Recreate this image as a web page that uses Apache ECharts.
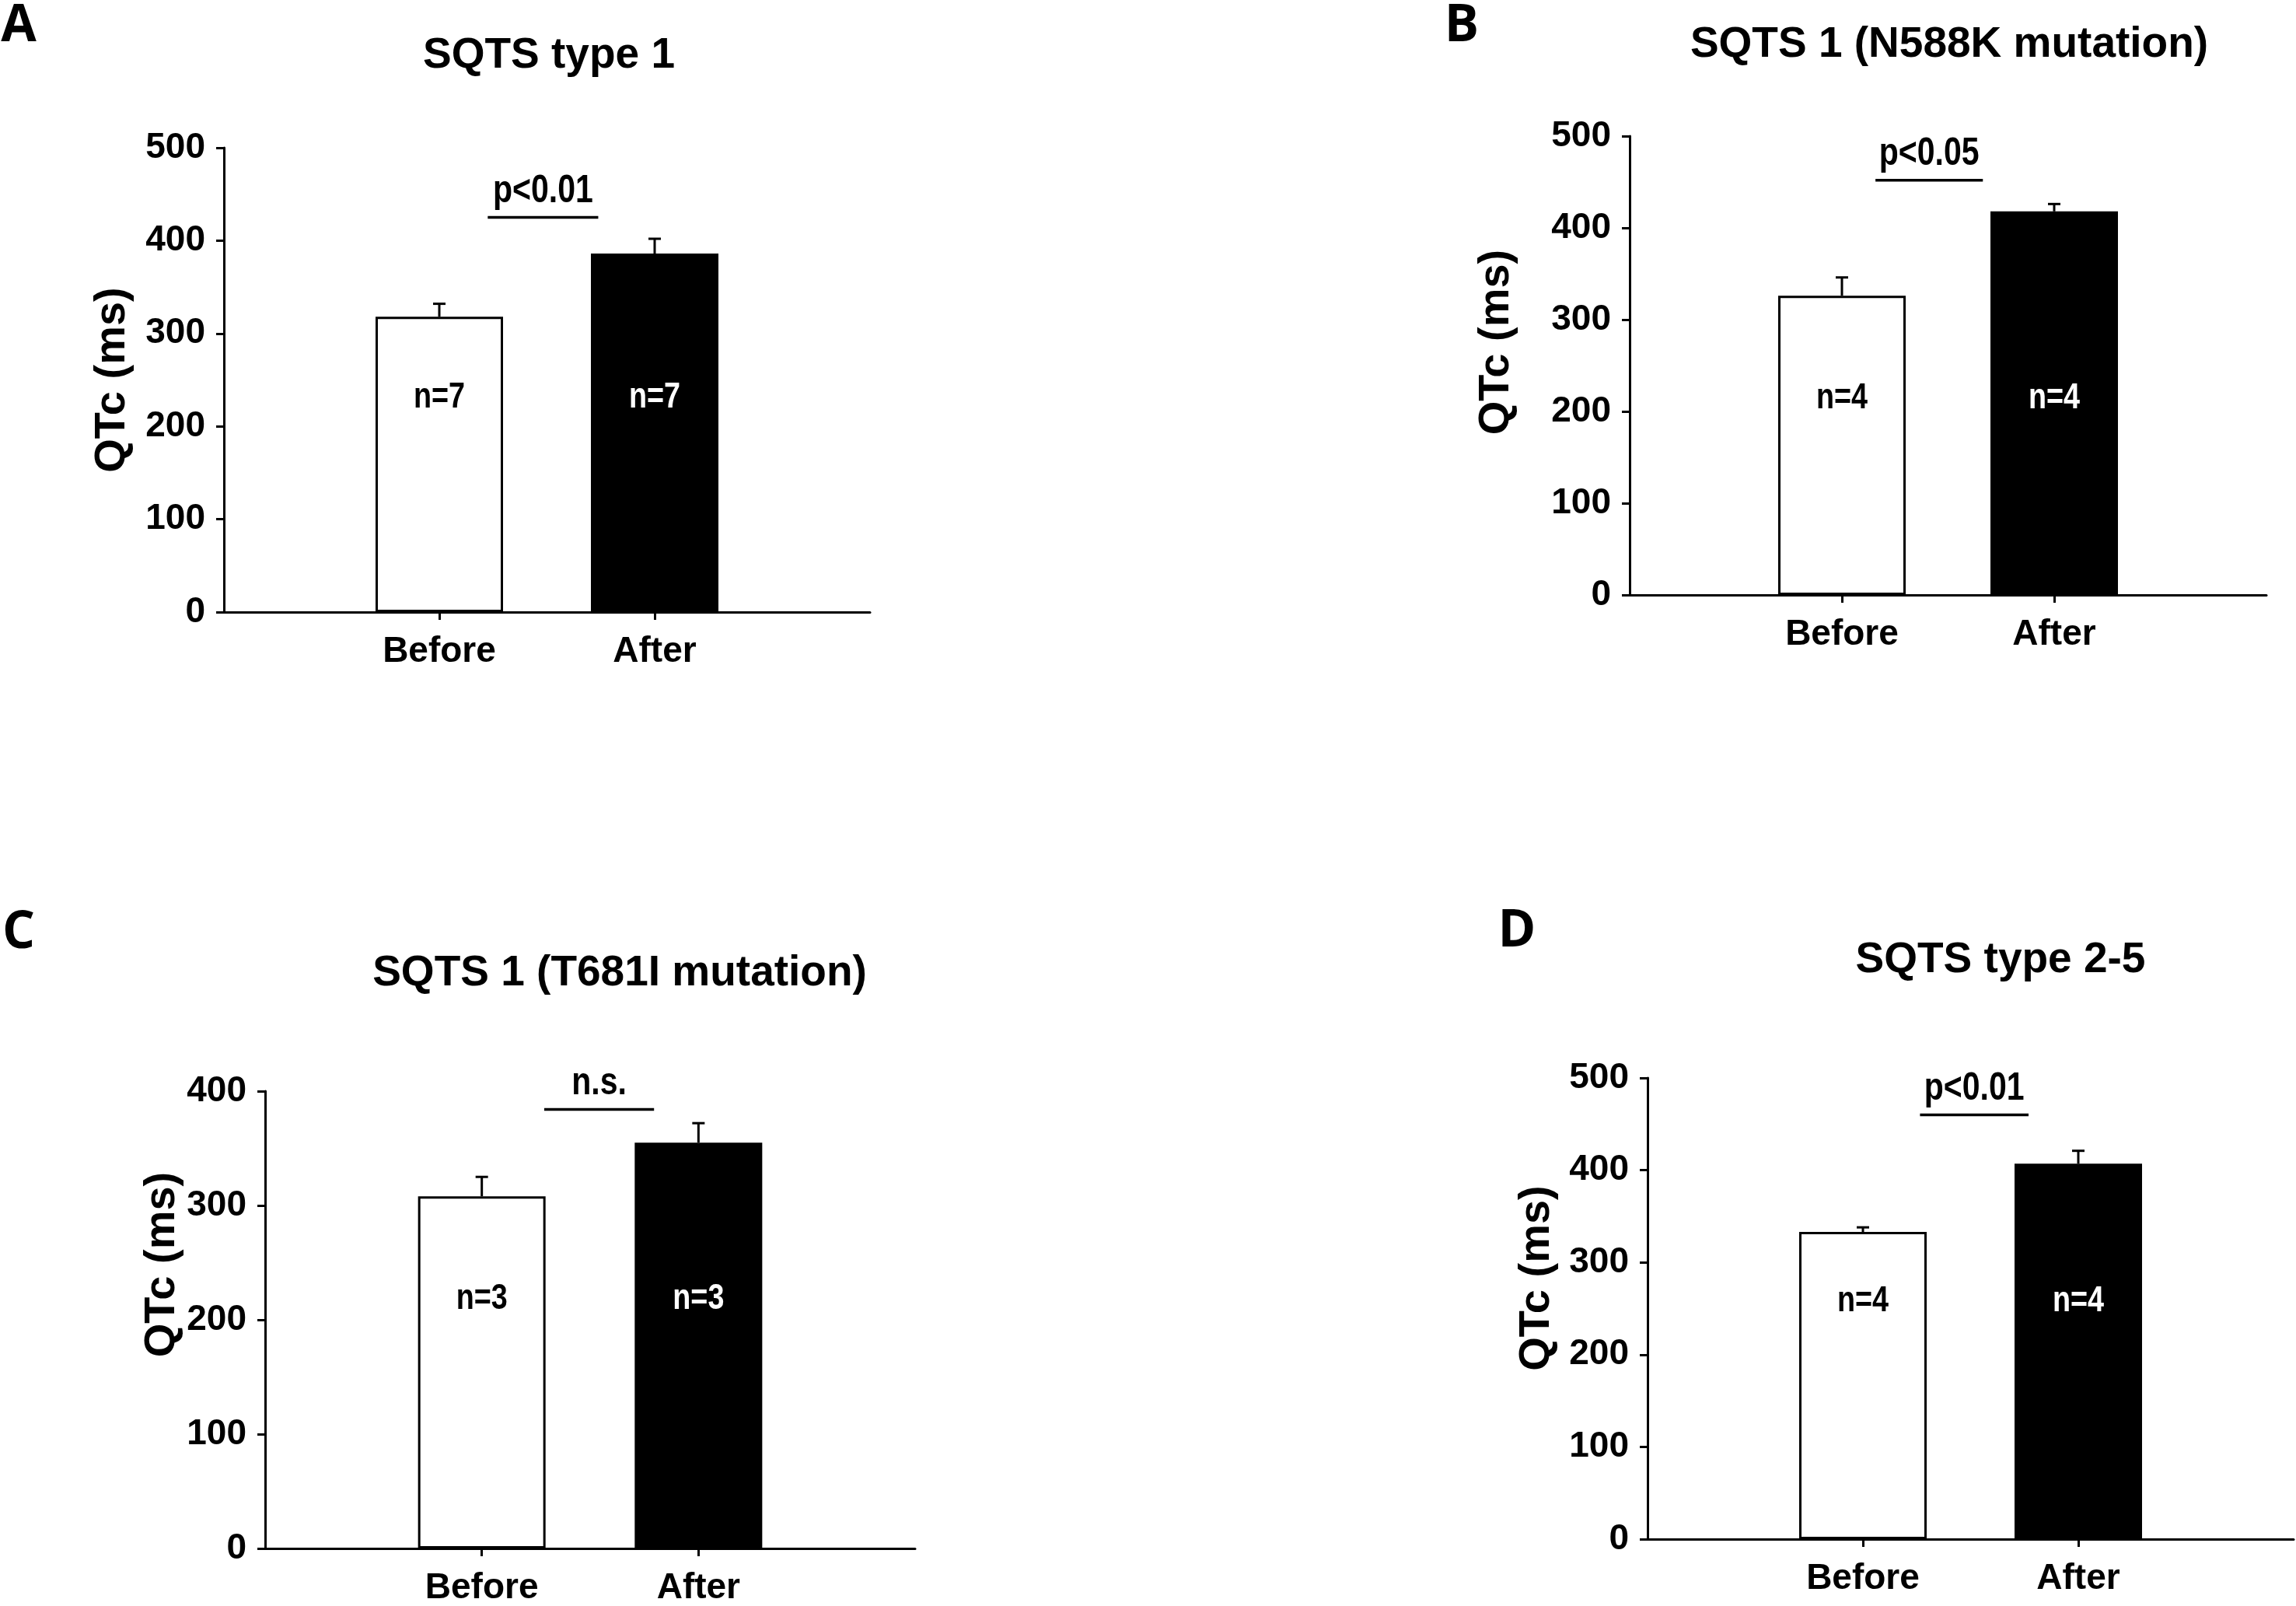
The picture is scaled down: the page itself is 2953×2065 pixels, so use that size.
<!DOCTYPE html>
<html>
<head>
<meta charset="utf-8">
<script src="https://cdn.jsdelivr.net/npm/echarts@6/dist/echarts.min.js"></script>
<style>
html,body{margin:0;padding:0;background:#fff;}
#chart{width:2953px;height:2065px;}
</style>
</head>
<body>
<div id="chart"></div>
<script>
// ---- data ----
const categories = ['', 'Before', 'After', ''];
const panelTitles = ['SQTS type 1', 'SQTS 1 (N588K mutation)', 'SQTS 1 (T681I mutation)', 'SQTS type 2-5'];
const panelLetters = ['A', 'B', 'C', 'D'];
const beforeMean = [318, 326, 308, 333];
const beforeErrTop = [332, 346, 325, 338];
const afterMean = [386, 418, 355, 407];
const afterErrTop = [402, 426, 372, 421];
const sigLabels = ['p<0.01', 'p<0.05', 'n.s.', 'p<0.01'];
const sigLevel = [425, 452, 384, 460];
const nLabels = ['n=7', 'n=4', 'n=3', 'n=4'];
const nLevel = [231, 214, 218, 258];
const yMax = [500, 500, 400, 500];
const yStep = 100;
const yName = 'QTc (ms)';

// ---- layout (pixels) ----
const grids = [
  {left: 288, top: 190, width: 831, height: 597},
  {left: 2096, top: 175, width: 819, height: 590},
  {left: 341, top: 1403, width: 836, height: 593},
  {left: 2119, top: 1386, width: 834, height: 593}
];
const titlePos = [[706, 72], [2507, 58], [797, 1252], [2573, 1235]];
const letterPos = [[24, 34], [1880, 34], [24, 1200], [1951, 1198]];
const nameGaps = [115, 143, 100, 114];
const nameShift = [0, 30, 71, 39];
const sigSpan = [[0.225, 0.738], [0.158, 0.664], [0.288, 0.795], [0.265, 0.769]];
const NARROW_SCALE = 0.82;

const SANS = '"Liberation Sans", Arial, sans-serif';
const iB = categories.indexOf('Before');
const iA = categories.indexOf('After');

const chart = echarts.init(document.getElementById('chart'), null, {renderer: 'canvas'});

const titles = [];
panelTitles.forEach((t, i) => {
  titles.push({
    text: t, left: titlePos[i][0], top: titlePos[i][1] - 28, textAlign: 'center', padding: 0,
    textStyle: {fontFamily: SANS, fontWeight: 'bold', fontSize: 55, color: '#000', lineHeight: 56}
  });
});
panelLetters.forEach((t, i) => {
  titles.push({
    text: t, left: letterPos[i][0], top: letterPos[i][1] - 33, textAlign: 'center', padding: 0,
    textStyle: {fontFamily: '"Open Sans", Lato, sans-serif', fontWeight: 'bold', fontSize: 66, color: '#000', lineHeight: 66}
  });
});

const xAxes = grids.map((g, i) => ({
  gridIndex: i, type: 'category', data: categories, boundaryGap: false,
  axisLine: {show: true, onZero: false, lineStyle: {color: '#000', width: 3}},
  axisTick: {show: true, interval: (idx, val) => val !== '', length: 10, lineStyle: {color: '#000', width: 3}},
  axisLabel: {interval: 0, margin: 28, color: '#000', fontFamily: SANS, fontWeight: 'bold', fontSize: 46},
  splitLine: {show: false}
}));

const yAxes = grids.map((g, i) => ({
  gridIndex: i, type: 'value', min: 0, max: yMax[i], interval: yStep,
  name: yName, nameLocation: 'middle', nameGap: nameGaps[i], nameRotate: 90,
  nameTextStyle: {fontFamily: SANS, fontWeight: 'bold', fontSize: 56, color: '#000', padding: [0, 0, 0, 2 * nameShift[i]]},
  axisLine: {show: true, lineStyle: {color: '#000', width: 3}},
  axisTick: {show: true, length: 10, lineStyle: {color: '#000', width: 3}},
  axisLabel: {margin: 24, color: '#000', fontFamily: SANS, fontWeight: 'bold', fontSize: 46},
  splitLine: {show: false}
}));

const series = [];
grids.forEach((g, i) => {
  series.push({
    type: 'bar', xAxisIndex: i, yAxisIndex: i, barWidth: 164, z: 2,
    data: categories.map((c) => {
      if (c === 'Before') return {value: beforeMean[i], itemStyle: {color: '#fff', borderColor: '#000', borderWidth: 3}};
      if (c === 'After') return {value: afterMean[i], itemStyle: {color: '#000', borderColor: '#000', borderWidth: 3}};
      return '-';
    })
  });
  // error bars
  series.push({
    type: 'custom', xAxisIndex: i, yAxisIndex: i, z: 3,
    data: [['Before', beforeMean[i], beforeErrTop[i]], ['After', afterMean[i], afterErrTop[i]]],
    renderItem: (params, api) => {
      const b = api.coord([api.value(0), api.value(1)]);
      const t = api.coord([api.value(0), api.value(2)]);
      return {type: 'group', children: [
        {type: 'line', shape: {x1: b[0], y1: b[1], x2: t[0], y2: t[1]}, style: {stroke: '#000', lineWidth: 3}},
        {type: 'line', shape: {x1: t[0] - 8, y1: t[1], x2: t[0] + 8, y2: t[1]}, style: {stroke: '#000', lineWidth: 3}}
      ]};
    }
  });
  // n labels
  series.push({
    type: 'custom', xAxisIndex: i, yAxisIndex: i, z: 4,
    data: [['Before', nLevel[i]], ['After', nLevel[i]]],
    renderItem: (params, api) => {
      const p = api.coord([api.value(0), api.value(1)]);
      return {type: 'text', x: p[0], y: p[1], scaleX: NARROW_SCALE, scaleY: 1,
        style: {text: nLabels[i], x: 0, y: 0, align: 'center', verticalAlign: 'middle',
        font: 'bold 46px ' + SANS, fill: params.dataIndex === 1 ? '#fff' : '#000'}};
    }
  });
  // significance line + label
  series.push({
    type: 'custom', xAxisIndex: i, yAxisIndex: i, z: 4,
    data: [['Before', sigLevel[i]]],
    renderItem: (params, api) => {
      const p1 = api.coord([iB, api.value(1)]);
      const p2 = api.coord([iA, api.value(1)]);
      const x0 = p1[0] + sigSpan[i][0] * (p2[0] - p1[0]);
      const x1 = p1[0] + sigSpan[i][1] * (p2[0] - p1[0]);
      const y = p1[1];
      return {type: 'group', children: [
        {type: 'line', shape: {x1: x0, y1: y, x2: x1, y2: y}, style: {stroke: '#000', lineWidth: 3.5}},
        {type: 'text', x: (x0 + x1) / 2, y: y - 8, scaleX: NARROW_SCALE, scaleY: 1,
          style: {text: sigLabels[i], x: 0, y: 0, align: 'center', verticalAlign: 'bottom',
          font: 'bold 50px ' + SANS, fill: '#000'}}
      ]};
    }
  });
});

chart.setOption({
  backgroundColor: '#fff',
  animation: false,
  title: titles,
  grid: grids,
  xAxis: xAxes,
  yAxis: yAxes,
  series: series
});
</script>
</body>
</html>
